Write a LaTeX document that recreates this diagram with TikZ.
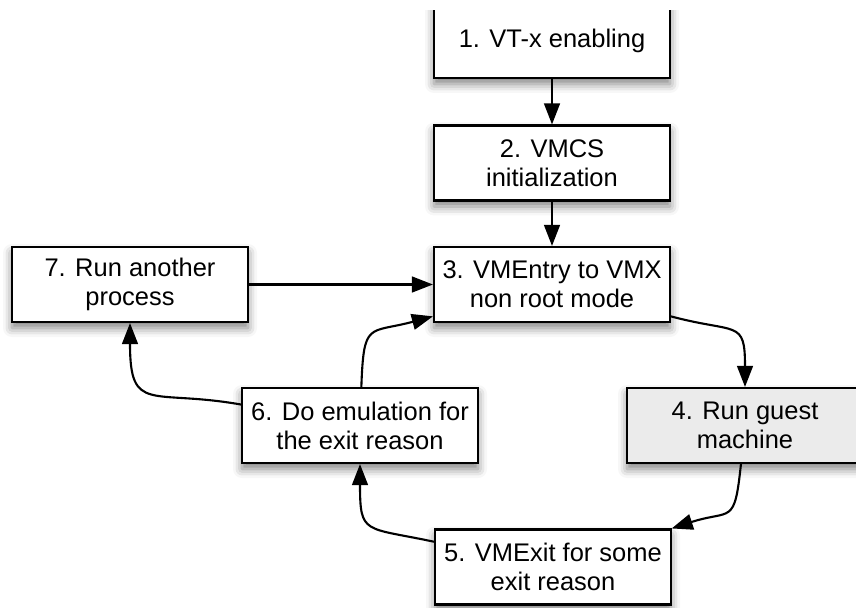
\documentclass[tikz,border=0pt]{standalone}
\usepackage{fontspec}
\setmainfont{Liberation Sans}
\usepackage{tikz}
\usetikzlibrary{arrows.meta}
\usetikzlibrary{shadows.blur}
\tikzset{b/.style={draw, line width=1.2pt, fill=white, align=center, inner sep=0pt,
    minimum width=4.72cm, minimum height=1.5cm,
    blur shadow={shadow xshift=0cm, shadow yshift=-0.12cm, shadow blur radius=0.18cm, shadow opacity=50}}}
\tikzset{g/.style={b, fill=gray!16}}
\tikzset{c/.style={looseness=1.7}}

\begin{document}
\begin{tikzpicture}[line width=1.2pt, >={Triangle[length=12pt,width=9pt]}]
  \useasboundingbox (0,0) rectangle (17.12,12.14);
  \begin{scope}[font=\fontsize{14.5}{16.5}\selectfont]
    \clip (0,0) rectangle (17.12,11.92);
    \node [b] (VTX) at (11.04, 11.33) {1. VT-x enabling};
    \node [b] (VMCS) at (11.04, 8.88) {2. VMCS\\initialization}
      edge [<-] (VTX);
    \node [b] (ENTRY) at (11.04, 6.45) {3. VMEntry to VMX\\non root mode}
      edge [<-] (VMCS);
    \node [b] (OTHER) at (2.60, 6.45) {7. Run another\\process}
      edge [->] (ENTRY);
    \node [g] (GUEST) at (14.90, 3.63) {4. Run guest\\machine}
      edge [<-, c, out=90, in=-15] (ENTRY);
    \node [b] (EXIT) at (11.06, 0.80) {5. VMExit for some\\exit reason}
      edge [<-, c, out=18, in=-96] (GUEST);
    \node [b] (EMU) at (7.20, 3.63) {6. Do emulation for\\the exit reason}
      edge [<-, c, out=-90, in=168] (EXIT)
      edge [->, c, out=88, in=195] (ENTRY)
      edge [->, c, out=170, in=-90] (OTHER);
  \end{scope}
\end{tikzpicture}
\end{document}
